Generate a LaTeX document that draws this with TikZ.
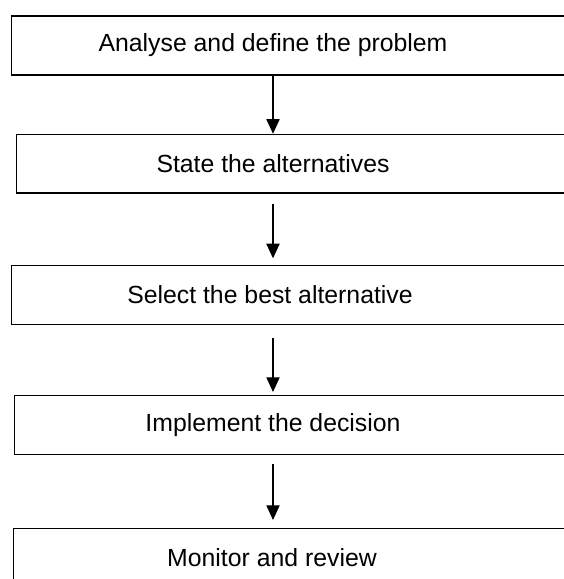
\documentclass[tikz,border=0pt]{standalone}
\usepackage{fontspec}
\setmainfont{Liberation Sans}
\usetikzlibrary{arrows.meta,positioning}
\tikzset{
   every path/.style={>={Triangle[length=11pt,width=10pt]}},
   stage/.style={draw,line width=1.1pt,anchor=west,inner sep=0pt,minimum width=450pt,minimum height=44pt},
   caption/.style={font=\fontsize{18.6}{22}\selectfont},
   flow/.style={->,line width=0.8pt},
}

\begin{document}
\begin{tikzpicture}[x=0.75pt,y=-0.75pt]
      \useasboundingbox (0,0) rectangle (564,579);
      \clip (0,0) rectangle (564,579);
      \node[stage] (analyse) at (11,45.5) {};
      \node[stage] (state) at (16,163.8) {};
      \node[stage] (select) at (11,295) {};
      \node[stage] (implement) at (14,425) {};
      \node[stage] (monitor) at (13,558) {};
      \node[caption] (tanalyse) at (273,45.5) {Analyse and define the problem};
      \node[caption] (tstate) at (273,163.8) {State the alternatives};
      \node[caption] (tselect) at (270,295) {Select the best alternative};
      \node[caption] (timplement) at (273,425) {Implement the decision};
      \node[caption] (tmonitor) at (272,558) {Monitor and review};
      \draw[flow] (analyse.south -| tstate) -- (state.north -| tstate);
      \draw[flow,shorten <=7.5pt,shorten >=5pt] (state.south -| tstate) -- (select.north -| tstate);
      \draw[flow,shorten <=9.75pt,shorten >=2.25pt] (select.south -| tstate) -- (implement.north -| tstate);
      \draw[flow,shorten <=6.75pt,shorten >=6pt] (implement.south -| tstate) -- (monitor.north -| tstate);
\end{tikzpicture}
\end{document}
